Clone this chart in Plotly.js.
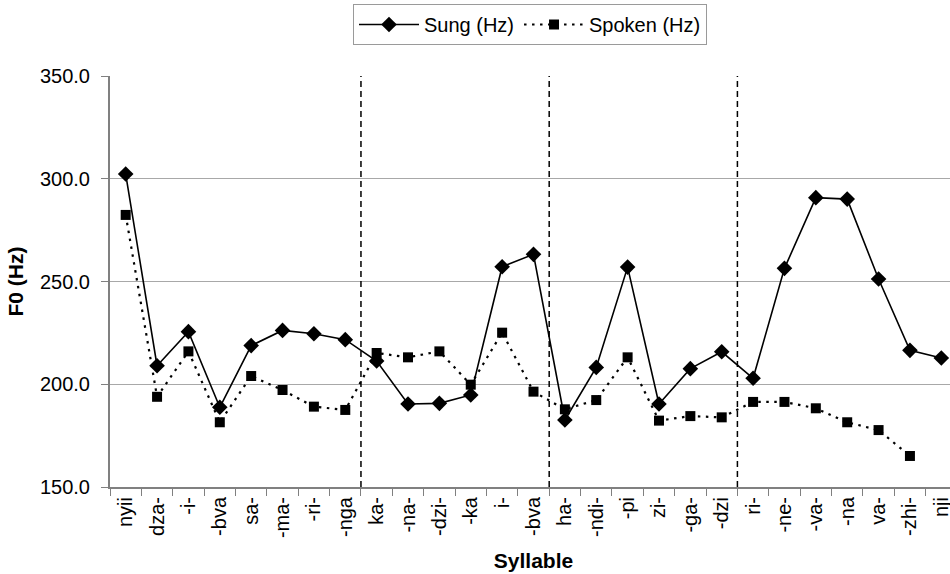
<!DOCTYPE html>
<html>
<head>
<meta charset="utf-8">
<script src="https://cdn.plot.ly/plotly-3.0.1.min.js"></script>
<style>
html, body { margin: 0; padding: 0; background: #fff; overflow: hidden; }
#chart { width: 957px; height: 574px; }
</style>
</head>
<body>
<div id="chart"></div>
<script>
// Syllables (x-axis categories)
const categories = ['nyii','dza-','-i-','-bva','sa-','-ma-','-ri-','-nga','ka-','-na-','-dzi-','-ka','i-','-bva','ha-','-ndi-','-pi','zi-','-ga-','-dzi','ri-','-ne-','-va-','-na','va-','-zhi-','nji'];
// F0 values in Hz
const sung = [302.3,209.0,225.6,188.8,218.8,226.2,224.6,221.7,211.3,190.4,190.7,194.8,257.2,263.2,182.6,208.2,257.0,190.4,207.6,215.8,202.9,256.4,290.8,290.1,251.2,216.5,212.8];
const spoken = [282.4,193.9,216.0,181.5,204.0,197.2,189.1,187.5,215.2,213.1,216.0,199.8,225.1,196.4,187.8,192.3,213.1,182.3,184.5,183.9,191.4,191.4,188.3,181.5,177.7,165.1,null];
// Phrase sections start at these category positions
const sectionStartIdx = [8, 14, 20];
const yTickVals = [150, 200, 250, 300, 350];

const xIdx = categories.map((_, i) => i);
const FONT = 'Liberation Sans, Arial, sans-serif';

const traces = [
  {
    x: xIdx, y: sung, name: 'Sung (Hz)', type: 'scatter', mode: 'lines+markers',
    line: { color: '#000', width: 1.6 },
    marker: { symbol: 'diamond', size: 12, color: '#000' }
  },
  {
    x: xIdx, y: spoken, name: 'Spoken (Hz)', type: 'scatter', mode: 'lines+markers',
    line: { color: '#000', width: 2.2, dash: '2.5px,5.5px' },
    marker: { symbol: 'square', size: 10, color: '#000' }
  }
];

const shapes = sectionStartIdx.map(i => ({
  type: 'line', xref: 'x', yref: 'paper', x0: i - 0.5, x1: i - 0.5, y0: 0, y1: 1,
  line: { color: '#000', width: 1.5, dash: '6px,4px' }
}));

const layout = {
  width: 957, height: 574,
  margin: { l: 110, r: 0, t: 76, b: 87 },
  paper_bgcolor: '#fff', plot_bgcolor: '#fff',
  font: { family: FONT, size: 20, color: '#000' },
  showlegend: true,
  legend: {
    orientation: 'h', xref: 'container', yref: 'container',
    x: 530 / 957, xanchor: 'center', y: 1 - 4 / 574, yanchor: 'top',
    bordercolor: '#9a9a9a', borderwidth: 1, bgcolor: '#fff',
    font: { family: FONT, size: 20, color: '#000' },
    itemwidth: 60, tracegroupgap: 0
  },
  xaxis: {
    range: [-0.5, 26.5], tickmode: 'array', tickvals: xIdx, ticktext: categories,
    tickangle: -90, ticks: '', showgrid: false, zeroline: false,
    showline: true, linecolor: '#808080', linewidth: 2,
    tickfont: { family: FONT, size: 20, color: '#000' },
    minor: { tickmode: 'linear', tick0: -0.5, dtick: 1, ticks: 'outside', ticklen: 7, tickcolor: '#808080', tickwidth: 1, showgrid: false },
    title: { text: '<b>Syllable</b>', font: { family: FONT, size: 21, color: '#000' }, standoff: 16 },
    automargin: false, fixedrange: true
  },
  yaxis: {
    range: [150, 350], tickmode: 'array', tickvals: yTickVals, tickformat: '.1f',
    ticks: 'outside', ticklen: 7, tickcolor: '#808080', tickwidth: 1,
    ticklabelstandoff: 7,
    showgrid: true, gridcolor: '#a8a8a8', gridwidth: 1, zeroline: false,
    showline: true, linecolor: '#808080', linewidth: 2,
    tickfont: { family: FONT, size: 20, color: '#000' },
    title: { text: '<b>F0 (Hz)</b>', font: { family: FONT, size: 21, color: '#000' }, standoff: 11 },
    automargin: false, fixedrange: true
  },
  shapes: shapes
};

Plotly.newPlot('chart', traces, layout, { displayModeBar: false, staticPlot: true });
</script>
</body>
</html>
